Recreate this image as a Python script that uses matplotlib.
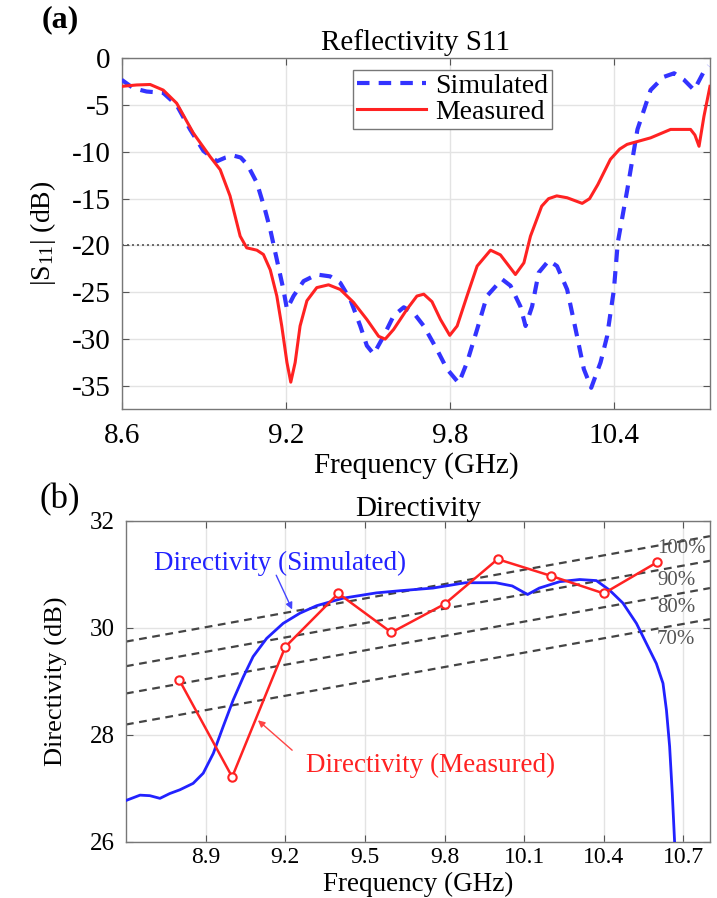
import matplotlib
matplotlib.use("Agg")
import matplotlib.pyplot as plt

plt.rcParams['font.family'] = ['Liberation Serif', 'DejaVu Serif']
plt.rcParams['mathtext.fontset'] = 'custom'
plt.rcParams['mathtext.rm'] = 'Liberation Serif'
plt.rcParams['mathtext.it'] = 'Liberation Serif:italic'

# ---------------- (a) Reflectivity S11 ----------------
s11_meas_f = [8.600, 8.655, 8.704, 8.752, 8.801, 8.862, 8.923, 8.960, 8.996, 9.033,
              9.057, 9.094, 9.118, 9.143, 9.167, 9.185, 9.204, 9.218, 9.234, 9.252,
              9.277, 9.313, 9.356, 9.399, 9.448, 9.496, 9.539, 9.563, 9.594, 9.643,
              9.679, 9.704, 9.734, 9.765, 9.799, 9.826, 9.862, 9.899, 9.948, 9.984,
              10.039, 10.070, 10.094, 10.112, 10.135, 10.160, 10.190, 10.228, 10.283,
              10.310, 10.340, 10.386, 10.420, 10.447, 10.533, 10.606, 10.679, 10.695,
              10.710, 10.728, 10.750]
s11_meas_db = [-3.0, -2.85, -2.8, -3.4, -4.8, -8.0, -10.5, -11.9, -14.7, -19.0,
               -20.25, -20.5, -20.96, -22.6, -25.4, -28.6, -32.5, -34.6, -32.5, -28.6,
               -25.9, -24.5, -24.2, -24.7, -26.1, -27.9, -29.7, -30.0, -28.96, -26.8,
               -25.4, -25.2, -26.0, -27.9, -29.6, -28.6, -25.4, -22.2, -20.5, -21.0,
               -23.1, -21.85, -19.0, -17.6, -15.8, -15.0, -14.7, -14.9, -15.5,
               -15.0, -13.5, -10.8, -9.7, -9.2, -8.5, -7.6, -7.6, -8.2,
               -9.4, -6.2, -3.0]

s11_sim_f = [8.600, 8.643, 8.691, 8.752, 8.801, 8.850, 8.899, 8.948, 8.980, 9.009,
             9.035, 9.060, 9.094, 9.124, 9.143, 9.167, 9.191, 9.204, 9.228, 9.265,
             9.313, 9.362, 9.399, 9.436, 9.472, 9.496, 9.521, 9.557, 9.594, 9.631,
             9.667, 9.704, 9.752, 9.789, 9.832, 9.862, 9.899, 9.935, 9.990, 10.021,
             10.057, 10.076, 10.100, 10.124, 10.161, 10.191, 10.228, 10.259, 10.289,
             10.316, 10.350, 10.374, 10.399, 10.413, 10.448, 10.485, 10.533, 10.580,
             10.619, 10.655, 10.692, 10.728, 10.745]
s11_sim_db = [-2.3, -3.2, -3.55, -3.7, -5.0, -7.6, -9.9, -11.0, -10.6, -10.4,
              -10.6, -11.4, -13.3, -16.2, -18.3, -21.5, -24.7, -26.8, -25.4, -23.8,
              -23.1, -23.3, -24.0, -25.8, -28.6, -30.7, -31.6, -29.7, -27.5, -26.6,
              -27.2, -28.6, -31.1, -33.2, -34.7, -32.5, -28.96, -25.4, -23.6, -24.3,
              -26.5, -28.6, -26.5, -22.9, -21.6, -22.2, -24.7, -28.96, -33.2,
              -35.2, -32.5, -29.7, -24.7, -19.7, -14.0, -7.6, -3.4, -2.0,
              -1.6, -2.3, -3.4, -1.4, -0.8]

s11_xticks = [8.6, 9.2, 9.8, 10.4]
s11_yticks = [0, -5, -10, -15, -20, -25, -30, -35]
s11_threshold = -20

# ---------------- (b) Directivity ----------------
dir_sim_f = [8.600, 8.653, 8.690, 8.728, 8.765, 8.803, 8.853, 8.891, 8.929, 8.966,
             9.004, 9.042, 9.079, 9.130, 9.192, 9.255, 9.318, 9.417, 9.543, 9.631,
             9.756, 9.879, 9.993, 10.055, 10.113, 10.157, 10.234, 10.309, 10.372,
             10.422, 10.472, 10.523, 10.560, 10.598, 10.623, 10.636, 10.648, 10.658,
             10.667]
dir_sim_db = [26.77, 26.87, 26.86, 26.81, 26.90, 26.97, 27.09, 27.28, 27.65, 28.15,
              28.65, 29.08, 29.46, 29.80, 30.08, 30.27, 30.41, 30.55, 30.65, 30.69,
              30.74, 30.84, 30.84, 30.78, 30.62, 30.74, 30.86, 30.90, 30.88,
              30.70, 30.46, 30.08, 29.71, 29.33, 28.96, 28.46, 27.78, 26.90,
              25.97]

dir_meas_f = [8.8, 9.0, 9.2, 9.4, 9.6, 9.8, 10.0, 10.2, 10.4, 10.6]
dir_meas_db = [29.03, 27.21, 29.64, 30.64, 29.91, 30.44, 31.28, 30.97, 30.64, 31.22]

eff_labels = ['100%', '90%', '80%', '70%']
eff_f = [8.6, 10.8]
eff_start_db = [29.74, 29.28, 28.77, 28.19]
eff_end_db = [31.71, 31.25, 30.74, 30.16]
eff_label_db = [31.48, 30.89, 30.37, 29.77]

dir_xticks = [8.9, 9.2, 9.5, 9.8, 10.1, 10.4, 10.7]
dir_yticks = [26, 28, 30, 32]

FS = 21
fig = plt.figure(figsize=(7.17, 8.98), dpi=100)


def style_axes(ax, fs):
    ax.grid(True, color='#e3e3e3', linewidth=1.0)
    ax.set_axisbelow(True)
    ax.tick_params(direction='in', top=True, right=True, length=5, width=0.8,
                   color='#555555', labelsize=fs, pad=8)
    for s in ax.spines.values():
        s.set_color('#777777')
        s.set_linewidth(1.0)


# ---- top panel
ax1 = fig.add_axes([0.1697, 0.5442, 0.8205, 0.3909])
style_axes(ax1, 21)
ax1.axhline(s11_threshold, color='#555555', linestyle=(0, (1.2, 1.8)), linewidth=1.2, zorder=2)
ax1.plot(s11_sim_f, s11_sim_db, color='#3333ff', linestyle=(0, (3.0, 2.2)), linewidth=3.0,
         label='Simulated', zorder=3)
ax1.plot(s11_meas_f, s11_meas_db, color='#ff2222', linewidth=2.2, label='Measured', zorder=4)
ax1.set_xlim(8.6, 10.75)
ax1.set_ylim(-37.5, 0)
ax1.set_xticks(s11_xticks)
ax1.set_xticklabels([f'{v:g}' for v in s11_xticks])
ax1.set_yticks(s11_yticks)
ax1.set_yticklabels([f'{v:g}' if v == 0 else f'-{abs(v):g}' for v in s11_yticks])
ax1.tick_params(axis='x', pad=10)
ax1.set_xlabel('Frequency (GHz)', fontsize=FS, labelpad=2)
ax1.set_ylabel(r'$|\mathrm{S}_{11}|$ (dB)', fontsize=20, labelpad=10)
ax1.set_title('Reflectivity S11', fontsize=FS, pad=6)
leg = ax1.legend(loc='upper left', bbox_to_anchor=(0.393, 0.968), fontsize=20,
                 frameon=True, fancybox=False, edgecolor='#777777', handlelength=2.5,
                 borderpad=0.15, labelspacing=0.0, handletextpad=0.3, borderaxespad=0,
                 framealpha=1)
leg.get_frame().set_linewidth(1.0)

# ---- bottom panel
ax2 = fig.add_axes([0.1757, 0.0627, 0.8145, 0.3575])
style_axes(ax2, 18)
for s0, s1, lab, ly in zip(eff_start_db, eff_end_db, eff_labels, eff_label_db):
    ax2.plot(eff_f, [s0, s1], color='#444444', linestyle=(0, (3.5, 2.5)), linewidth=1.6,
             zorder=2)
    ax2.text(10.60, ly, lab, color='#555555', fontsize=15, ha='left', va='center', zorder=5)
ax2.plot(dir_sim_f, dir_sim_db, color='#2222ff', linewidth=2.0, zorder=3)
ax2.plot(dir_meas_f, dir_meas_db, color='#ff2222', linewidth=1.8, marker='o',
         markersize=6, markerfacecolor='white', markeredgecolor='#ff2222',
         markeredgewidth=1.5, zorder=4)
ax2.set_xlim(8.6, 10.8)
ax2.set_ylim(26, 32)
ax2.set_xticks(dir_xticks)
ax2.set_xticklabels([f'{v:g}' for v in dir_xticks])
ax2.set_yticks(dir_yticks)
ax2.tick_params(axis='x', labelsize=17, pad=4)
ax2.set_xlabel('Frequency (GHz)', fontsize=19.5)
ax2.xaxis.set_label_coords(0.5, -0.093)
ax2.set_ylabel('Directivity (dB)', fontsize=19, labelpad=16)
ax2.set_title('Directivity', fontsize=FS, pad=3)

ax2.text(9.179, 31.2, 'Directivity (Simulated)', color='#2222ff', fontsize=19.5,
         ha='center', va='center', zorder=6)
ax2.annotate('', xy=(9.226, 30.34), xytext=(9.166, 30.98),
             arrowprops=dict(arrowstyle='-|>', color='#4444ff', lw=1.0,
                             mutation_scale=10, shrinkA=0, shrinkB=0), zorder=6)
ax2.text(9.747, 27.43, 'Directivity (Measured)', color='#ff2222', fontsize=19.5,
         ha='center', va='center', zorder=6)
ax2.annotate('', xy=(9.097, 28.27), xytext=(9.226, 27.71),
             arrowprops=dict(arrowstyle='-|>', color='#ff4444', lw=1.0,
                             mutation_scale=10, shrinkA=0, shrinkB=0), zorder=6)

fig.text(0.084, 0.978, '(a)', fontsize=23, fontweight='bold', ha='center', va='center')
fig.text(0.084, 0.443, '(b)', fontsize=25, ha='center', va='center')

fig.savefig('out.png', dpi=100)
